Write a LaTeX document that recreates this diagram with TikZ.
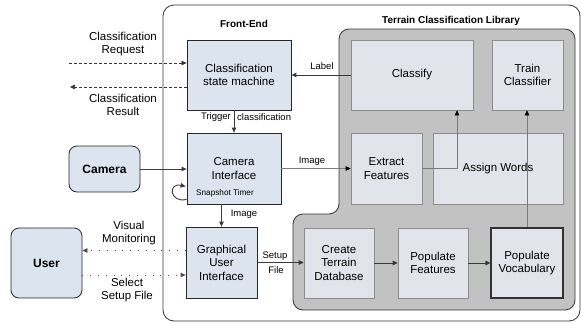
\documentclass[tikz,border=0pt]{standalone}
\usepackage{fontspec}
\setmainfont{Liberation Sans}
\usetikzlibrary{arrows.meta,calc,backgrounds}

\definecolor{febox}{HTML}{DCE4F0}
\definecolor{libbox}{HTML}{E1E5EB}
\definecolor{libgray}{HTML}{C2C2C2}
\definecolor{libedge}{HTML}{8C8C8C}
\definecolor{wire}{HTML}{3A3A3A}
\definecolor{thinwire}{HTML}{7A7A7A}

\tikzset{
  boxtext/.style={font=\fontsize{11.5}{13.5}\selectfont, align=center},
  febx/.style={boxtext, draw=black!85, line width=0.8pt, fill=febox, inner sep=0pt},
  libbx/.style={boxtext, draw=libedge, line width=0.6pt, fill=libbox, inner sep=0pt},
  actor/.style={febx, rounded corners=8pt, font=\fontsize{12}{14}\selectfont\bfseries},
  lbl/.style={font=\fontsize{11.5}{13.5}\selectfont, align=center, inner sep=1pt},
  small/.style={font=\fontsize{9.5}{11}\selectfont, inner sep=1pt},
  title/.style={font=\fontsize{10}{12}\selectfont\bfseries, inner sep=1pt},
  tip/.style={-{Triangle[length=5pt,width=4.5pt]}},
  flow/.style={tip, draw=wire, line width=0.9pt},
  thinflow/.style={-{Triangle[length=5pt,width=4.5pt,color=black]}, draw=thinwire, line width=0.6pt},
  dashflow/.style={tip, draw=black!80, line width=0.7pt, dash pattern=on 3pt off 2pt},
  dotflow/.style={tip, draw=black!70, line width=0.8pt, dash pattern=on 0.8pt off 7pt},
}

\begin{document}
\begin{tikzpicture}[x=1pt,y=-1pt]
\useasboundingbox (0,0) rectangle (581,322);

% front-end modules
\node[febx, minimum width=104pt, minimum height=70pt] (csm) at (239,75) {Classification\\state machine};
\node[febx, minimum width=94pt, minimum height=71pt] (ci) at (234,168.5) {Camera\\Interface};
\node[febx, minimum width=71pt, minimum height=71pt] (gui) at (221.5,262.5) {Graphical\\User\\Interface};
\node[font=\fontsize{8.2}{10}\selectfont, anchor=west, inner sep=0pt] (snap) at (196,193) {Snapshot Timer};

% external actors
\node[actor, minimum width=71pt, minimum height=46pt] (camera) at (104.5,169) {Camera};
\node[actor, minimum width=71pt, minimum height=70pt] (user) at (46.5,263) {User};

% library modules
\node[libbx, minimum width=122pt, minimum height=70pt] (classify) at (412,75) {Classify};
\node[libbx, minimum width=71pt, minimum height=70pt] (train) at (527.5,75) {Train\\Classifier};
\node[libbx, minimum width=71pt, minimum height=71pt] (extract) at (386.5,168.5) {Extract\\Features};
\node[libbx, minimum width=130pt, minimum height=71pt] (assign) at (498,168.5) {Assign Words};
\node[libbx, minimum width=70pt, minimum height=70pt] (ctd) at (339,263) {Create\\Terrain\\Database};
\node[libbx, minimum width=70pt, minimum height=70pt] (pf) at (433,263) {Populate\\Features};
\node[libbx, draw=black!80, line width=1.1pt, minimum width=72pt, minimum height=70pt] (pv) at (527,263) {Populate\\Vocabulary};

% containers
\begin{scope}[on background layer]
  \draw[rounded corners=11pt, line width=0.8pt, draw=black!80] (163,5) rectangle (580,321);
  \draw[fill=libgray, draw=black!80, line width=0.8pt, rounded corners=10pt]
    (339,29) -- (575,29) -- (575,310) -- (293,310) -- (293,214) -- (339,214) -- cycle;
\end{scope}
\node[title] (fetitle) at (244,24) {Front-End};
\node[title] (libtitle) at (451,21) {Terrain Classification Library};

% external requests
\coordinate (reqsrc) at (69,63);
\coordinate (resdst) at (70,87);
\draw[dashflow] (reqsrc) -- (reqsrc -| csm.west);
\draw[dashflow] (resdst -| csm.west) -- (resdst);
\node[lbl] (reqlbl) at (123,44) {Classification\\Request};
\node[lbl] (reslbl) at (123,105) {Classification\\Result};

% user interaction
\draw[dotflow] ([yshift=12pt]gui.west) -- ([yshift=12pt]gui.west -| user.east);
\draw[dotflow] ([yshift=-12pt]user.east) -- ([yshift=-12pt]user.east -| gui.west);
\node[lbl] (vislbl) at (129,233) {Visual\\Monitoring};
\node[lbl] (sellbl) at (127,290) {Select\\Setup File};

% front-end flows
\draw[flow] (classify.west) -- (classify.west -| csm.east);
\node[small] (labellbl) at (322,66) {Label};
\draw[flow] (csm.south -| ci.north) -- (ci.north);
\node[small, anchor=east] (trig) at (232,117) {Trigger};
\node[small, anchor=west] (trigcls) at (236,117) {classification};
\draw[flow] (camera.east) -- (camera.east -| ci.west);
\draw[flow] ($(ci.south west)+(0,-5)$) .. controls +(-17,4) and +(-18,-4) .. ($(ci.south west)+(-1,-18)$);
\draw[flow] (ci.south -| gui.north) -- (gui.north);
\node[small] (imgdown) at (244,214) {Image};
\draw[thinflow] (ci.east) -- (ci.east -| extract.west);
\node[small] (imgright) at (312,161) {Image};
\draw[flow] (gui.east) -- (gui.east -| ctd.west);
\node[small] (setuplbl) at (275,256) {Setup};
\node[small] (filelbl) at (276,270) {File};

% library flows
\draw[thinflow] (extract.east) -| ([xshift=45pt]classify.south);
\draw[thinflow] (pv.north) -- (pv.north |- train.south);
\draw[flow] (ctd.east) -- (pf.west);
\draw[flow] (pf.east) -- (pv.west);
\end{tikzpicture}
\end{document}
